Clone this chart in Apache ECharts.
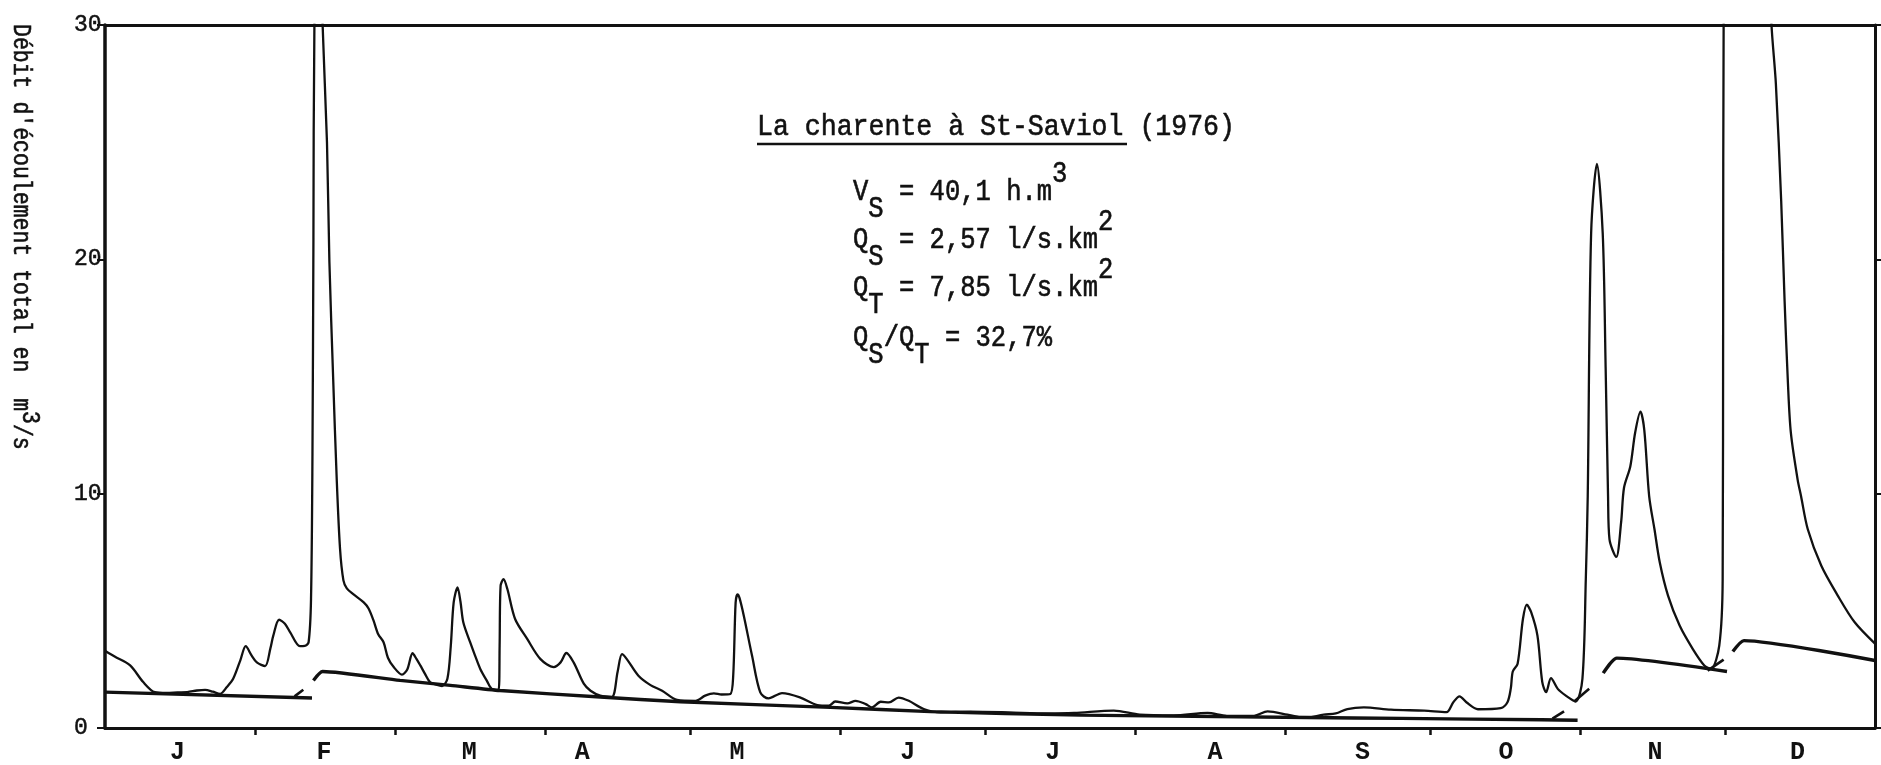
<!DOCTYPE html>
<html>
<head>
<meta charset="utf-8">
<title>La charente à St-Saviol (1976)</title>
<script src="https://cdn.jsdelivr.net/npm/echarts/dist/echarts.min.js"></script>
<style>
  html, body { margin: 0; padding: 0; background: #fff; }
  #chart { width: 1881px; height: 765px; }
</style>
</head>
<body>
<div id="chart"></div>
<script>
// Day of year 1976 (leap year), 0 = 1 January
const monthLetters = ['J', 'F', 'M', 'A', 'M', 'J', 'J', 'A', 'S', 'O', 'N', 'D'];
const monthStartDays = [0, 31, 60, 91, 121, 152, 182, 213, 244, 274, 305, 335, 366];
const monthLabelDays = [15, 45.3, 75.3, 98.7, 130.7, 166, 196, 229.5, 260, 289.7, 320.5, 350];
const yTicks = [0, 10, 20, 30];

// Total discharge (m3/s) as [day, value]
const totalFlow = [
  [0, 3.3], [2, 3.05], [5.2, 2.67], [7.9, 1.96], [10.3, 1.53], [12.8, 1.5], [15, 1.52], [17, 1.53],
  [19, 1.6], [20.7, 1.63], [22.3, 1.55], [23.8, 1.46], [25.2, 1.75], [26.5, 2.1], [28, 2.9],
  [29.1, 3.49], [30.3, 3.1], [31.4, 2.8], [33.1, 2.64], [34.2, 3.4], [34.8, 3.94], [36, 4.62],
  [37.2, 4.45], [38.3, 4.08], [40.3, 3.49], [41.3, 3.5], [42.1, 3.66], [42.6, 5.5], [42.9, 11.7],
  [43.1, 20.9], [43.3, 30], [44.2, 37], [45, 30], [45.9, 25], [46.4, 19.9], [47.2, 14.8],
  [47.9, 10.7], [48.6, 7.65], [49.3, 6.3], [50, 5.96], [51.4, 5.7], [53.5, 5.36], [54.5, 5.1],
  [55.5, 4.6], [56.5, 4.0], [57.6, 3.66], [58.5, 3.0], [59.7, 2.6], [61.4, 2.28], [62.5, 2.5],
  [63.6, 3.19], [64.4, 2.95], [65.2, 2.67], [66.2, 2.3], [67.2, 1.96], [68.5, 1.85], [69.7, 1.79],
  [70.8, 2.1], [71.5, 3.5], [72.1, 5.36], [72.9, 6.0], [73.5, 5.4], [74.1, 4.5], [75.5, 3.66],
  [76.5, 3.1], [77.6, 2.52], [79, 2.0], [80, 1.67], [81.4, 1.63], [81.6, 3.5], [81.8, 6.07],
  [82.4, 6.35], [83.2, 5.93], [84.8, 4.65], [87.3, 3.8], [90, 2.95], [92.8, 2.6], [94.2, 2.8],
  [95.4, 3.2], [96.9, 2.8], [99, 1.89], [100.4, 1.59], [102.4, 1.38], [104.8, 1.33], [106, 2.4],
  [106.9, 3.15], [107.9, 2.94], [110.3, 2.23], [112.8, 1.83], [115.2, 1.59], [118.3, 1.2],
  [122.1, 1.16], [124.1, 1.38], [125.9, 1.48], [127.5, 1.43], [129.3, 1.45], [129.9, 2.23],
  [130.4, 5.35], [130.8, 5.7], [131.2, 5.55], [132.1, 4.78], [133.8, 3.08], [135.5, 1.52],
  [137.2, 1.26], [140, 1.49], [143.8, 1.3], [147.3, 0.98], [149.7, 0.95], [151, 1.13],
  [153.5, 1.05], [155.2, 1.16], [157.3, 1.02], [158.6, 0.88], [160.4, 1.12], [162.1, 1.09],
  [164.1, 1.3], [166.2, 1.16], [169.3, 0.81], [172.8, 0.67], [179, 0.7], [186.6, 0.67],
  [194.8, 0.62], [200.4, 0.64], [208.6, 0.74], [214, 0.57], [221, 0.54], [228, 0.64], [232, 0.52],
  [237.6, 0.52], [240.4, 0.71], [244.5, 0.57], [248, 0.43], [252, 0.57], [254.5, 0.62],
  [256.9, 0.81], [260.3, 0.88], [265.9, 0.78], [272.8, 0.74], [277.4, 0.68], [278.8, 1.1],
  [280.1, 1.35], [281.5, 1.1], [283.9, 0.8], [288.6, 0.85], [290, 1.1], [290.7, 1.7], [291.1, 2.41],
  [292.1, 2.74], [293.2, 4.65], [294, 5.26], [294.9, 4.94], [296.2, 3.94], [297.2, 1.96],
  [298, 1.53], [299, 2.13], [300.4, 1.67], [302, 1.39], [304.1, 1.13], [305.5, 2.1], [306.2, 6.35],
  [306.6, 9.9], [307.3, 21.1], [308.5, 24.07], [309.7, 21.1], [310.3, 15.4], [310.8, 9.9],
  [311.1, 8.05], [312.5, 7.3], [313.5, 8.77], [314.1, 10.25], [315.4, 11.16], [316.4, 12.6],
  [317.5, 13.5], [318.3, 12.7], [319.3, 9.9], [320.4, 8.48], [321.5, 7.06], [323.2, 5.65],
  [325.6, 4.37], [328.3, 3.38], [330.7, 2.67], [332.1, 2.52], [333.8, 3.52], [334.5, 6.35],
  [334.6, 18.3], [334.7, 30], [336.5, 41], [339.5, 46], [342.5, 40], [344.6, 30], [345.5, 27.5],
  [346.6, 22.5], [347.3, 18.26], [348, 14.7], [348.6, 12.6], [350, 10.6],
  [350.7, 9.9], [352.1, 8.48], [354.9, 6.92], [358.3, 5.65], [361.8, 4.51], [366, 3.6]
];

// Base flow (recession) segments
const baseJan = [[0, 1.53], [42.8, 1.28]];
const baseFebOct = [
  [43.1, 2.03], [45, 2.41], [61, 2.03], [71.4, 1.82], [81.7, 1.6], [102.4, 1.32], [119, 1.12],
  [150, 0.88], [170.7, 0.7], [201.7, 0.55], [248.6, 0.45], [268, 0.41], [297, 0.35], [304.5, 0.33]
];
const baseNov = [[309.8, 2.34], [312.6, 2.98], [335.4, 2.41]];
const baseDec = [[336.6, 3.26], [338.9, 3.73], [366, 2.88]];

// Short connecting strokes between successive base-flow segments
const connectors = [
  [[39.2, 1.35], [41.0, 1.63]],
  [[299.3, 0.4], [301.7, 0.71]],
  [[303.8, 1.13], [306.9, 1.67]],
  [[331.4, 2.45], [334.7, 2.92]]
];

const INK = '#111';
const MONO = '"Liberation Mono", "DejaVu Sans Mono", monospace';

const chart = echarts.init(document.getElementById('chart'), null, { renderer: 'canvas' });

function baseSeries(data) {
  return {
    type: 'line', data: data, xAxisIndex: 0, yAxisIndex: 0,
    symbol: 'none', silent: true, smooth: 0.2,
    lineStyle: { color: INK, width: 3.4 }, z: 3
  };
}

const series = [
  {
    type: 'line', data: totalFlow, xAxisIndex: 0, yAxisIndex: 0,
    symbol: 'none', silent: true, smooth: 0.3, clip: true,
    lineStyle: { color: INK, width: 2.3 }, z: 4
  },
  baseSeries(baseJan), baseSeries(baseFebOct), baseSeries(baseNov), baseSeries(baseDec)
].concat(connectors.map(seg => ({
  type: 'line', data: seg, xAxisIndex: 0, yAxisIndex: 0,
  symbol: 'none', silent: true, lineStyle: { color: INK, width: 2.6 }, z: 3
})));

// Typewriter-like text: larger glyphs squeezed horizontally, with a thin outline for weight
function tw(size, lineHeight, valign) {
  return {
    fontFamily: MONO, fontSize: size, fill: INK, stroke: INK, lineWidth: 0.6,
    lineHeight: lineHeight, verticalAlign: valign
  };
}

function formulaLine(text, y) {
  return {
    type: 'text', x: 853, y: y, scaleX: 0.88, silent: true,
    style: {
      text: text, align: 'left', verticalAlign: 'middle',
      rich: { m: tw(29, 64, 'middle'), s: tw(29, 30, 'bottom'), p: tw(29, 30, 'top') }
    }
  };
}

const option = {
  backgroundColor: '#fff',
  animation: false,
  grid: { left: 105, right: 6, top: 25, bottom: 36, containLabel: false },
  xAxis: [
    {
      type: 'value', min: 0, max: 366, position: 'bottom',
      splitLine: { show: false },
      axisLine: { show: true, onZero: false, lineStyle: { color: INK, width: 3 } },
      axisTick: { show: true, customValues: monthStartDays.slice(1, -1), length: 7, lineStyle: { color: INK, width: 2.5 } },
      axisLabel: {
        show: true, customValues: monthLabelDays, margin: 12,
        fontFamily: MONO, fontSize: 25, fontWeight: 'bold', color: INK,
        formatter: function (v, i) {
          const k = monthLabelDays.indexOf(v);
          return monthLetters[k >= 0 ? k : i] || '';
        }
      }
    },
    {
      type: 'value', min: 0, max: 366, position: 'top',
      splitLine: { show: false },
      axisLine: { show: true, onZero: false, lineStyle: { color: INK, width: 3 } },
      axisTick: { show: false }, axisLabel: { show: false }
    }
  ],
  yAxis: [
    {
      type: 'value', min: 0, max: 30, interval: 10, position: 'left',
      splitLine: { show: false },
      axisLine: { show: true, onZero: false, lineStyle: { color: INK, width: 3.5 } },
      axisTick: { show: true, length: 8, lineStyle: { color: INK, width: 2 } },
      axisLabel: {
        show: true, margin: 31, align: 'left', fontFamily: MONO, fontSize: 23, color: INK,
        textBorderColor: INK, textBorderWidth: 0.5,
        formatter: function (v) { return yTicks.indexOf(v) >= 0 ? String(v) : ''; }
      }
    },
    {
      type: 'value', min: 0, max: 30, interval: 10, position: 'right',
      splitLine: { show: false },
      axisLine: { show: true, onZero: false, lineStyle: { color: INK, width: 3 } },
      axisTick: { show: true, length: 6, lineStyle: { color: INK, width: 2 } },
      axisLabel: { show: false }
    }
  ],
  graphic: [
    {
      type: 'text', x: 21, y: 24, rotation: -Math.PI / 2, scaleX: 0.86, silent: true,
      style: {
        text: "{m|Débit d'écoulement total en  m}{p|3}{m|/s}",
        align: 'left', verticalAlign: 'middle',
        rich: { m: tw(25, 42, 'middle'), p: tw(25, 24, 'top') }
      }
    },
    {
      type: 'text', x: 757, y: 127, scaleX: 0.9, silent: true,
      style: {
        text: 'La charente à St-Saviol (1976)', align: 'left', verticalAlign: 'middle',
        fontFamily: MONO, fontSize: 29.5, fill: INK, stroke: INK, lineWidth: 0.6
      }
    },
    {
      type: 'line', silent: true,
      shape: { x1: 757, y1: 144, x2: 1127, y2: 144 },
      style: { stroke: INK, lineWidth: 2.6 }
    },
    formulaLine('{m|V}{s|S}{m| = 40,1 h.m}{p|3}', 192),
    formulaLine('{m|Q}{s|S}{m| = 2,57 l/s.km}{p|2}', 240),
    formulaLine('{m|Q}{s|T}{m| = 7,85 l/s.km}{p|2}', 288),
    formulaLine('{m|Q}{s|S}{m|/Q}{s|T}{m| = 32,7%}', 338)
  ],
  series: series
};

chart.setOption(option);
</script>
</body>
</html>
